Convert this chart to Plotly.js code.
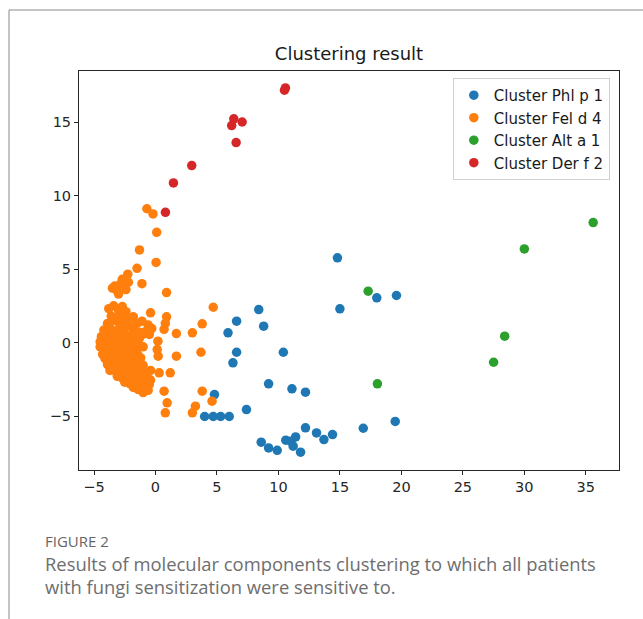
<!DOCTYPE html>
<html>
<head>
<meta charset="utf-8">
<script src="https://cdn.plot.ly/plotly-3.0.1.min.js"></script>
<style>html,body{margin:0;padding:0;background:#fff;}#chart{width:643px;height:619px;}</style>
</head>
<body>
<div id="chart"></div>
<script>
// ---- data ----
const seriesNames = ["Cluster Phl p 1", "Cluster Fel d 4", "Cluster Alt a 1", "Cluster Der f 2"];
const seriesColors = ["#1f77b4", "#ff7f0e", "#2ca02c", "#d62728"];

const phlX = [14.8, 15.0, 18.0, 19.6, 8.4, 6.6, 5.9, 8.8, 10.4, 6.6, 6.3, 9.2, 11.1, 12.2, 4.8, 4.0, 4.7, 5.3, 6.0, 7.4, 8.6, 9.2, 9.9, 10.6, 11.4, 11.2, 11.8, 11.0, 12.2, 13.1, 13.7, 14.4, 16.9, 19.5];
const phlY = [5.76, 2.29, 3.04, 3.2, 2.24, 1.45, 0.66, 1.11, -0.66, -0.66, -1.38, -2.81, -3.15, -3.38, -3.54, -5.03, -5.03, -5.03, -5.03, -4.56, -6.78, -7.17, -7.33, -6.64, -6.42, -7.05, -7.46, -6.71, -5.8, -6.15, -6.6, -6.26, -5.83, -5.37];

const felX = [-0.7, -0.2, 0.1, -1.3, 0.05, -1.5, -1.1, 0.9,
  -3.3, -2.7, -2.25, -2.8, -2.4, -3.1, -3.5, -2.2, -3.0,
  4.7, -0.4, 0.9, 0.8, 0.7, 3.8, 3.0, 1.7, 0.2, -1.0, 0.14, 0.22, 1.7, 3.7, 0.3, 1.2, 0.7, 3.8, 4.6, 0.95, 0.8, 3.25, 3.0,
  -3.8, -3.4, -3.0, -2.7, -2.4, -3.6, -3.1, -2.6, -2.2, -1.8,
  -3.9, -3.4, -2.9, -2.4, -2.0, -1.5, -1.1, -0.6, -0.3, -3.6, -3.1, -2.6, -1.8, -1.3, -0.8, -4.2,
  -4.4, -4.0, -3.7, -3.3, -2.9, -2.5, -2.1, -1.7, -1.3, -0.9, -0.5, -4.5, -4.1, -3.6, -3.2, -2.8, -2.3, -1.9, -1.5,
  -4.5, -4.2, -3.9, -3.5, -3.1, -2.7, -2.3, -1.9, -1.5, -4.3, -3.8, -3.3, -2.9, -2.5, -2.1, -1.7, -1.45,
  -4.1, -3.6, -3.2, -2.8, -2.4, -2.0, -1.6, -1.2, -3.9, -3.4, -3.0, -2.6, -2.2, -1.8, -1.4, -1.0,
  -3.7, -3.2, -2.8, -2.4, -2.0, -1.6, -1.2, -0.8, -0.4,
  -3.1, -2.7, -2.3, -1.9, -1.5, -1.1, -0.7, -0.4,
  -2.5, -2.1, -1.7, -1.3, -0.9, -0.5, -1.8, -1.4, -1.0, -0.6, -1.0];
const felY = [9.1, 8.75, 7.5, 6.3, 5.45, 5.05, 4.0, 3.4,
  3.85, 4.3, 4.65, 4.0, 3.6, 3.5, 3.7, 4.1, 3.3,
  2.4, 2.02, 1.75, 1.3, 0.9, 1.27, 0.66, 0.61, 0.09, -0.29, -0.48, -0.93, -0.93, -0.66, -2.06, -2.06, -3.31, -3.31, -3.99, -4.1, -4.78, -4.33, -4.78,
  2.3, 2.5, 2.2, 2.45, 2.1, 1.8, 1.7, 1.75, 1.6, 1.75,
  1.3, 1.5, 1.2, 1.4, 1.1, 1.3, 1.45, 1.2, 0.95, 0.9, 0.8, 0.95, 0.85, 0.7, 0.75, 0.85,
  0.4, 0.55, 0.3, 0.5, 0.35, 0.6, 0.4, 0.5, 0.3, 0.6, 0.55, 0.05, 0.1, -0.05, 0.15, 0.0, 0.1, -0.05, 0.05,
  -0.3, -0.5, -0.25, -0.45, -0.3, -0.5, -0.35, -0.55, -0.4, -0.8, -0.75, -0.85, -0.7, -0.9, -0.8, -0.95, -0.8,
  -1.1, -1.2, -1.05, -1.25, -1.1, -1.3, -1.15, -1.05, -1.5, -1.6, -1.45, -1.6, -1.5, -1.65, -1.45, -1.55,
  -1.9, -2.0, -1.85, -2.05, -1.9, -2.1, -1.95, -2.05, -1.9,
  -2.3, -2.4, -2.3, -2.45, -2.35, -2.4, -2.3, -2.55,
  -2.7, -2.8, -2.7, -2.9, -2.75, -2.85, -3.05, -3.2, -3.1, -3.25, -3.4];

const altX = [17.3, 18.05, 27.5, 28.4, 30.0, 35.6];
const altY = [3.49, -2.81, -1.34, 0.43, 6.37, 8.16];

const derX = [10.57, 10.49, 6.37, 6.2, 7.05, 6.56, 2.95, 1.46, 0.81];
const derY = [17.32, 17.16, 15.22, 14.76, 15.0, 13.6, 12.04, 10.86, 8.86];

const xTicks = [-5, 0, 5, 10, 15, 20, 25, 30, 35];
const yTicks = [-5, 0, 5, 10, 15];

const captionHead = "FIGURE 2";
const captionLine1 = "Results of molecular components clustering to which all patients";
const captionLine2 = "with fungi sensitization were sensitive to.";

// ---- traces ----
const xs = [phlX, felX, altX, derX];
const ys = [phlY, felY, altY, derY];
const traces = xs.map((x, i) => ({
  type: "scatter", mode: "markers", name: seriesNames[i],
  x: x, y: ys[i],
  marker: {color: seriesColors[i], size: 9.5, line: {width: 0}}
}));

const font = "'DejaVu Sans'";
const capFont = "'Open Sans'";
const axisCommon = {
  showgrid: false, zeroline: false, showline: true, mirror: true,
  linecolor: "#262626", linewidth: 1,
  ticks: "outside", ticklen: 4, tickwidth: 1, tickcolor: "#262626",
  tickfont: {family: font, size: 14.5, color: "#262626"},
  tickmode: "array"
};

const layout = {
  width: 643, height: 619,
  margin: {l: 79, r: 24, t: 71, b: 149, pad: 0},
  paper_bgcolor: "#ffffff", plot_bgcolor: "#ffffff",
  font: {family: font},
  title: {text: "Clustering result", x: 0.5, xref: "paper", xanchor: "center",
          y: 1 - 54/619, yref: "container", yanchor: "middle",
          font: {family: font, size: 18, color: "#1a1a1a"}},
  xaxis: Object.assign({}, axisCommon, {range: [-6.22, 37.7], tickvals: xTicks, ticktext: xTicks.map(v => v < 0 ? "\u2212" + Math.abs(v) : String(v))}),
  yaxis: Object.assign({}, axisCommon, {range: [-8.67, 18.47], tickvals: yTicks, ticktext: yTicks.map(v => v < 0 ? "\u2212" + Math.abs(v) : String(v))}),
  showlegend: true,
  legend: {x: 0.983, xanchor: "right", y: 0.9825, yanchor: "top",
           bgcolor: "rgba(255,255,255,0.85)", bordercolor: "#d0d0d0", borderwidth: 1,
           font: {family: font, size: 15, color: "#1a1a1a"}},
  shapes: [
    {type: "line", xref: "paper", yref: "paper", x0: -0.1296, x1: 1.05, y0: 1.1529, y1: 1.1529, line: {color: "#8a8a8a", width: 1}},
    {type: "line", xref: "paper", yref: "paper", x0: -0.1296, x1: -0.1296, y0: 1.1529, y1: -0.38, line: {color: "#8a8a8a", width: 1}}
  ],
  annotations: [
    {text: captionHead, xref: "paper", yref: "paper", x: (43-79)/540, y: (470-541)/399, xanchor: "left", yanchor: "middle", showarrow: false,
     font: {family: capFont, size: 15, color: "#666666"}},
    {text: captionLine1, xref: "paper", yref: "paper", x: (43-79)/540, y: (470-563)/399, xanchor: "left", yanchor: "middle", showarrow: false,
     font: {family: capFont, size: 18.4, color: "#6e6e6e"}},
    {text: captionLine2, xref: "paper", yref: "paper", x: (43-79)/540, y: (470-586)/399, xanchor: "left", yanchor: "middle", showarrow: false,
     font: {family: capFont, size: 18.4, color: "#6e6e6e"}}
  ]
};

Plotly.newPlot("chart", traces, layout, {staticPlot: true, displayModeBar: false});
</script>
</body>
</html>
